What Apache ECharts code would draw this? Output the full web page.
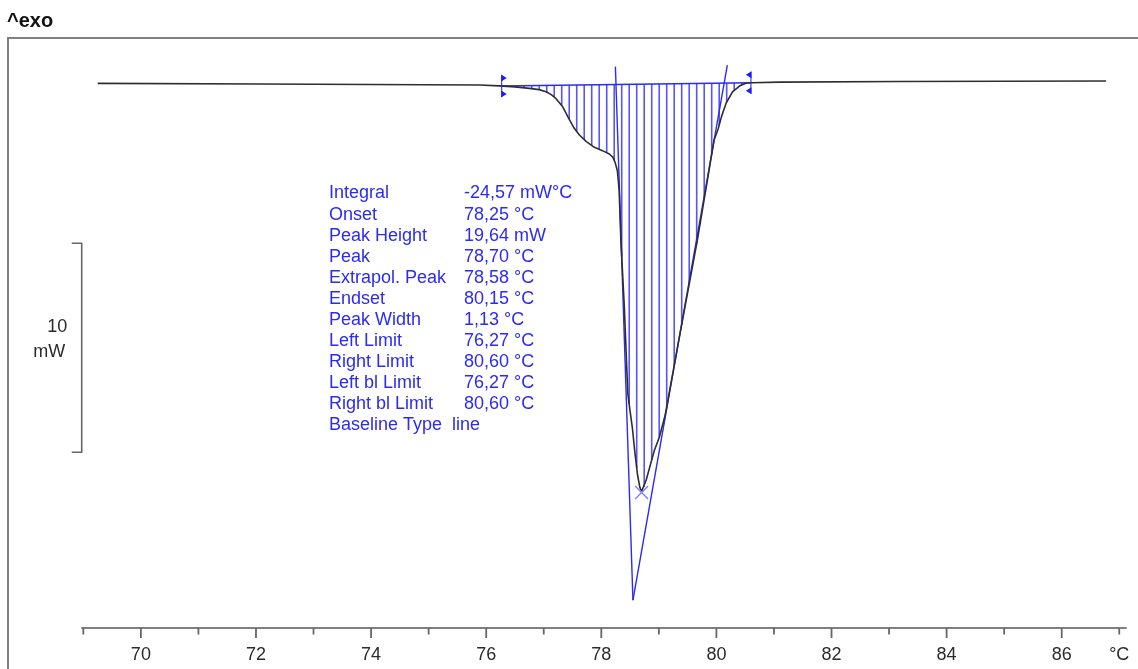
<!DOCTYPE html>
<html><head><meta charset="utf-8">
<script src="https://cdn.jsdelivr.net/npm/echarts@6/dist/echarts.min.js"></script>
<style>html,body{margin:0;padding:0;background:#fff}#chart{width:1138px;height:669px}</style>
</head><body><div id="chart"></div>
<script>
// ---- data ----
const curveT = [69.25, 72.06, 75.88, 76.23, 76.50, 76.75, 76.92, 77.04, 77.13, 77.21, 77.33, 77.42, 77.53, 77.62, 77.74, 77.88, 78.02, 78.14, 78.20, 78.24, 78.28, 78.31, 78.34, 78.40, 78.46, 78.50, 78.54, 78.58, 78.63, 78.67, 78.70, 78.73, 78.78, 78.84, 78.92, 79.01, 79.11, 79.37, 79.67, 79.96, 80.03, 80.09, 80.17, 80.28, 80.40, 80.52, 80.62, 81.09, 83.18, 86.77];
const curveMW = [-0.02, -0.05, -0.10, -0.14, -0.19, -0.26, -0.32, -0.42, -0.56, -0.74, -1.14, -1.62, -2.17, -2.49, -2.81, -3.08, -3.24, -3.40, -3.55, -3.80, -4.21, -5.12, -7.52, -10.71, -14.84, -15.70, -16.50, -17.60, -18.76, -19.35, -19.55, -19.48, -19.00, -18.40, -17.60, -16.94, -15.89, -11.96, -7.51, -2.73, -2.20, -1.60, -0.96, -0.43, -0.15, 0.00, 0.01, 0.04, 0.07, 0.09];
const tickValues = [69, 70, 71, 72, 73, 74, 75, 76, 77, 78, 79, 80, 81, 82, 83, 84, 85, 86, 87];
const tickLabels = ['', '70', '', '72', '', '74', '', '76', '', '78', '', '80', '', '82', '', '84', '', '86', '°C'];
const limitT = [76.27, 80.60];
const limitMW = [-0.15, 0.01];
const hatchStep = 0.1303;
const leftTangent = [[78.245, 0.78], [78.55, -24.75]];
const rightTangent = [[80.19, 0.85], [78.55, -24.75]];
const peakPoint = [78.70, -19.60];
const scaleBarT = 68.972;
const scaleBarMW = [-7.67, -17.67];
const scaleBarText = ['10', 'mW'];
const resultLabels = ['Integral', 'Onset', 'Peak Height', 'Peak', 'Extrapol. Peak', 'Endset', 'Peak Width', 'Left Limit', 'Right Limit', 'Left bl Limit', 'Right bl Limit'];
const resultValues = ['-24,57 mW°C', '78,25 °C', '19,64 mW', '78,70 °C', '78,58 °C', '80,15 °C', '1,13 °C', '76,27 °C', '80,60 °C', '76,27 °C', '80,60 °C'];
const baselineTypeLabel = 'Baseline Type';
const baselineTypeValue = 'line';
const yTitle = '^exo';

// ---- helpers ----
const xMin = 68.977, xMax = 87.117, yMin = -26.08, yMax = 2.15;
function curveAt(t) {
  for (let i = 1; i < curveT.length; i++) {
    if (t <= curveT[i]) {
      const f = (t - curveT[i - 1]) / (curveT[i] - curveT[i - 1]);
      return curveMW[i - 1] + f * (curveMW[i] - curveMW[i - 1]);
    }
  }
  return curveMW[curveMW.length - 1];
}
function baseAt(t) {
  const f = (t - limitT[0]) / (limitT[1] - limitT[0]);
  return limitMW[0] + f * (limitMW[1] - limitMW[0]);
}
const hatchData = [];
for (let k = 1; limitT[0] + k * hatchStep < limitT[1]; k++) {
  const t = limitT[0] + k * hatchStep;
  hatchData.push([t, baseAt(t), curveAt(t)]);
}

const BLUE = '#2b2bf5';
const FONT = '"Liberation Sans", Arial, sans-serif';

const chart = echarts.init(document.getElementById('chart'), null, {renderer: 'canvas'});
chart.setOption({
  animation: false,
  backgroundColor: '#fff',
  grid: {left: 82, right: 12, top: 38, bottom: 41, containLabel: false},
  xAxis: {
    type: 'value', min: xMin, max: xMax,
    axisLine: {show: true, onZero: false, lineStyle: {color: '#808080', width: 2}},
    axisTick: {show: false}, axisLabel: {show: false}, splitLine: {show: false}
  },
  yAxis: {type: 'value', min: yMin, max: yMax, show: false, splitLine: {show: false}},
  graphic: [
    {type: 'rect', z: -10, shape: {x: 8, y: 38, width: 1300, height: 800},
     style: {fill: 'none', stroke: '#808080', lineWidth: 2}},
    {type: 'text', x: 7, y: 21,
     style: {text: yTitle, font: 'bold 20px ' + FONT, fill: '#111', verticalAlign: 'middle'}},
    {type: 'text', x: 329, y: 183,
     style: {text: resultLabels.concat([baselineTypeLabel + '  ' + baselineTypeValue]).join('\n'),
             font: '18px ' + FONT, lineHeight: 21.06, fill: BLUE, verticalAlign: 'top'}},
    {type: 'text', x: 464, y: 183,
     style: {text: resultValues.join('\n'),
             font: '18px ' + FONT, lineHeight: 21.06, fill: BLUE, verticalAlign: 'top'}}
  ],
  series: [
    { // hatching of the integrated area
      type: 'custom', coordinateSystem: 'cartesian2d', silent: true, z: 2,
      data: hatchData,
      renderItem: (params, api) => {
        const a = api.coord([api.value(0), api.value(1)]);
        const b = api.coord([api.value(0), api.value(2)]);
        return {type: 'line', shape: {x1: a[0], y1: a[1], x2: b[0], y2: b[1]},
                style: {stroke: '#4343ff', lineWidth: 1.6, opacity: 0.9}};
      }
    },
    { // baseline
      type: 'line', silent: true, z: 3, symbol: 'none',
      data: limitT.map((t, i) => [t, limitMW[i]]),
      lineStyle: {color: BLUE, width: 1.5}
    },
    {
      type: 'line', silent: true, z: 3, symbol: 'none', data: leftTangent,
      lineStyle: {color: BLUE, width: 1.4}
    },
    {
      type: 'line', silent: true, z: 3, symbol: 'none', data: rightTangent,
      lineStyle: {color: BLUE, width: 1.4}
    },
    { // measured curve
      type: 'line', silent: true, z: 5, symbol: 'none', smooth: false,
      data: curveT.map((t, i) => [t, curveMW[i]]),
      lineStyle: {color: '#2e2e2e', width: 1.6}
    },
    { // peak cross
      type: 'custom', coordinateSystem: 'cartesian2d', silent: true, z: 6,
      data: [peakPoint],
      renderItem: (params, api) => {
        const c = api.coord([api.value(0), api.value(1)]);
        const h = 6.5;
        return {type: 'group', children: [
          {type: 'line', shape: {x1: c[0] - h, y1: c[1] - h, x2: c[0] + h, y2: c[1] + h}, style: {stroke: '#7d7dff', lineWidth: 1.3}},
          {type: 'line', shape: {x1: c[0] - h, y1: c[1] + h, x2: c[0] + h, y2: c[1] - h}, style: {stroke: '#7d7dff', lineWidth: 1.3}}
        ]};
      }
    },
    { // limit markers
      type: 'custom', coordinateSystem: 'cartesian2d', silent: true, z: 7,
      data: limitT.map((t, i) => [t, limitMW[i], i]),
      renderItem: (params, api) => {
        const c = api.coord([api.value(0), api.value(1)]);
        const dir = api.value(2) === 0 ? 1 : -1;
        const x = c[0], y = c[1];
        return {type: 'group', children: [
          {type: 'line', shape: {x1: x, y1: y - 11, x2: x, y2: y + 11}, style: {stroke: '#1a1aff', lineWidth: 1}},
          {type: 'polygon', shape: {points: [[x - dir * 0.5, y - 11.5], [x - dir * 0.5, y - 4.5], [x + dir * 5, y - 8]]}, style: {fill: '#1a1aff'}},
          {type: 'polygon', shape: {points: [[x - dir * 0.5, y + 4.5], [x - dir * 0.5, y + 11.5], [x + dir * 5, y + 8]]}, style: {fill: '#1a1aff'}}
        ]};
      }
    },
    { // x-axis ticks and labels
      type: 'custom', coordinateSystem: 'cartesian2d', silent: true, clip: false, z: 8,
      data: tickValues.map((v, i) => [v, yMin, i]),
      renderItem: (params, api) => {
        const v = api.value(0);
        const p = api.coord([v, yMin]);
        const len = (v % 2 === 0) ? 10 : 6.5;
        return {type: 'group', children: [
          {type: 'line', shape: {x1: p[0], y1: p[1], x2: p[0], y2: p[1] + len}, style: {stroke: '#666', lineWidth: 1.8}},
          {type: 'text', style: {text: tickLabels[api.value(2)], x: p[0], y: p[1] + 27, align: 'center', verticalAlign: 'middle',
                                 font: '18px ' + FONT, fill: '#2b2b2b'}}
        ]};
      }
    },
    { // 10 mW scale bar
      type: 'custom', coordinateSystem: 'cartesian2d', silent: true, clip: false, z: 8,
      data: [[scaleBarT, scaleBarMW[0], scaleBarMW[1]]],
      renderItem: (params, api) => {
        const a = api.coord([api.value(0), api.value(1)]);
        const b = api.coord([api.value(0), api.value(2)]);
        const mid = (a[1] + b[1]) / 2;
        return {type: 'group', children: [
          {type: 'polyline', shape: {points: [[a[0] - 10, a[1]], [a[0], a[1]], [b[0], b[1]], [b[0] - 10, b[1]]]},
           style: {stroke: '#666', lineWidth: 1.6, fill: null}},
          {type: 'text', style: {text: scaleBarText[0], x: a[0] - 14.5, y: mid - 20.5, align: 'right', verticalAlign: 'middle', font: '18px ' + FONT, fill: '#2b2b2b'}},
          {type: 'text', style: {text: scaleBarText[1], x: a[0] - 16.5, y: mid + 4.5, align: 'right', verticalAlign: 'middle', font: '18px ' + FONT, fill: '#2b2b2b'}}
        ]};
      }
    }
  ]
});
</script>
</body></html>
